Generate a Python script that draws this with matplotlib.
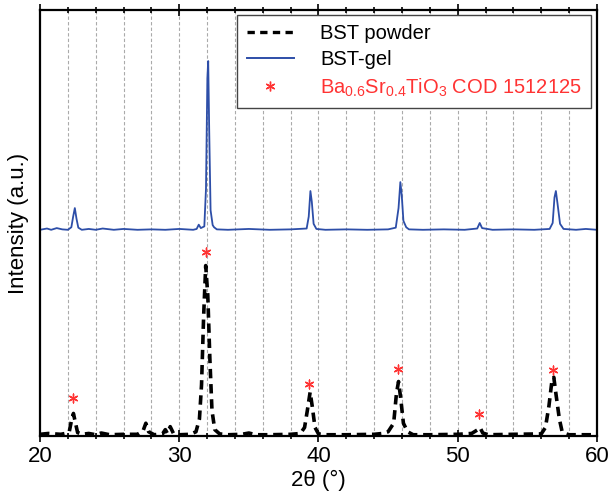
import matplotlib
matplotlib.use("Agg")
import matplotlib.pyplot as plt
from matplotlib.lines import Line2D

plt.rcParams['font.family'] = ['Liberation Sans', 'DejaVu Sans']
plt.rcParams['mathtext.default'] = 'regular'

# BST powder pattern (arbitrary intensity units)
powder_2theta = [20.0, 20.6, 21.0, 21.5, 21.8, 22.1, 22.25, 22.4, 22.55, 22.7, 23.0, 23.5, 24.0, 24.4,
                 25.0, 26.0, 27.0, 27.4, 27.6, 27.8, 28.2, 28.8, 29.0, 29.15, 29.35, 29.6, 30.0,
                 30.8, 31.2, 31.45, 31.6, 31.75, 31.9, 32.05, 32.2, 32.35, 32.55, 32.9, 33.5,
                 34.5, 35.0, 35.5, 36.5, 38.0, 38.7, 39.0, 39.2, 39.4, 39.55, 39.75, 40.0, 40.5,
                 42.0, 44.0, 44.6, 45.0, 45.4, 45.6, 45.75, 45.9, 46.1, 46.4, 46.8, 48.0, 50.0,
                 51.0, 51.4, 51.6, 51.8, 52.2, 54.0, 56.0, 56.3, 56.55, 56.75, 56.9, 57.05, 57.3,
                 57.5, 57.8, 58.0, 60.0]
powder_int = [0.4, 0.6, 0.5, 0.4, 0.6, 1.0, 3.5, 5.3, 3.0, 0.8, 0.4, 0.6, 0.3, 0.7,
              0.3, 0.4, 0.4, 1.2, 3.0, 1.0, 0.3, 0.5, 1.5, 0.6, 2.2, 0.5, 0.3,
              0.4, 1.0, 4.0, 12.0, 28.0, 40.0, 33.0, 18.0, 6.0, 1.5, 0.5, 0.3,
              0.4, 0.7, 0.3, 0.3, 0.4, 0.6, 2.0, 6.0, 10.3, 7.0, 2.0, 0.5, 0.3,
              0.3, 0.4, 0.6, 1.0, 3.0, 10.0, 12.8, 9.0, 3.0, 1.0, 0.3, 0.3, 0.4,
              0.6, 1.4, 2.0, 0.7, 0.3, 0.4, 0.5, 2.0, 7.0, 12.5, 13.8, 10.0, 4.0,
              1.0, 0.5, 0.3, 0.3]

# BST-gel pattern (offset upwards)
gel_2theta = [20.0, 20.5, 20.8, 21.2, 21.6, 22.0, 22.25, 22.38, 22.5, 22.62, 22.75, 23.0, 23.5,
              24.0, 24.5, 25.3, 26.0, 27.0, 28.0, 29.0, 30.0, 31.0, 31.25, 31.4, 31.55, 31.8,
              31.92, 32.02, 32.08, 32.15, 32.25, 32.4, 32.5, 32.7, 33.5, 35.0, 36.5, 38.0,
              39.15, 39.3, 39.42, 39.52, 39.65, 39.85, 40.5, 42.0, 43.5, 45.0, 45.55, 45.75,
              45.88, 45.98, 46.1, 46.3, 46.5, 47.5, 49.0, 50.5, 51.4, 51.58, 51.75, 52.5,
              54.0, 55.5, 56.6, 56.82, 56.95, 57.05, 57.17, 57.35, 57.6, 58.5, 59.2, 60.0]
gel_int = [48.4, 48.7, 48.4, 48.8, 48.5, 48.4, 49.0, 51.5, 53.5, 51.0, 48.9, 48.4, 48.6,
           48.4, 48.7, 48.4, 48.6, 48.4, 48.5, 48.4, 48.6, 48.4, 48.6, 49.6, 48.8, 49.2,
           58.0, 84.0, 88.0, 72.0, 53.0, 49.5, 49.0, 48.5, 48.4, 48.6, 48.4, 48.5,
           48.7, 51.5, 57.5, 55.0, 49.8, 48.6, 48.4, 48.5, 48.4, 48.5, 48.9, 53.5,
           59.6, 56.5, 50.5, 49.0, 48.5, 48.4, 48.5, 48.4, 48.7, 50.0, 48.8, 48.4,
           48.5, 48.4, 48.6, 50.0, 56.0, 57.5, 54.5, 49.8, 48.6, 48.4, 48.6, 48.4]

# reference reflections (Ba0.6Sr0.4TiO3, COD 1512125) marked above powder peaks
ref_2theta = [22.4, 31.9, 39.3, 45.7, 51.5, 56.85]
ref_mark_y = [9.0, 43.3, 12.2, 15.7, 5.2, 15.5]

red = "#ff3333"
blue = "#2d4ea8"

fig = plt.figure(figsize=(6.11, 4.97), dpi=100)
ax = fig.add_axes([0.0655, 0.1227, 0.9115, 0.8573])

for g in range(22, 60, 2):
    ax.axvline(g, color="#aaaaaa", lw=0.8, ls=(0, (3, 2)), zorder=0)

ax.plot(powder_2theta, powder_int, color="black", lw=2.6, ls=(0, (2.6, 1.6)))
ax.plot(gel_2theta, gel_int, color=blue, lw=1.3)
ax.scatter(ref_2theta, ref_mark_y, marker=(6, 2, 0), s=40, color=red, lw=1.0, zorder=5)

ax.set_xlim(20, 60)
ax.set_ylim(0, 100)
ax.set_xticks([20, 30, 40, 50, 60])
ax.set_xticks(range(22, 60, 2), minor=True)
ax.set_yticks([])
ax.tick_params(axis="x", which="both", direction="inout", top=True, labelsize=16, width=1.2)
ax.tick_params(axis="x", which="major", length=8)
ax.tick_params(axis="x", which="minor", length=5)
for s in ax.spines.values():
    s.set_linewidth(1.6)

ax.set_xlabel("2θ (°)", fontsize=16, labelpad=2)
ax.set_ylabel("Intensity (a.u.)", fontsize=16, labelpad=8)

handles = [
    Line2D([], [], color="black", lw=2.4, ls=(0, (2.2, 1.6))),
    Line2D([], [], color=blue, lw=1.4),
    Line2D([], [], color=red, marker=(6, 2, 0), ms=7, mew=1.0, ls="none"),
]
labels = ["BST powder", "BST-gel", r"Ba$_{0.6}$Sr$_{0.4}$TiO$_3$ COD 1512125"]
leg = ax.legend(handles, labels, loc="upper right", fontsize=14.5, fancybox=False,
                framealpha=1, edgecolor="#444444", handlelength=2.35, borderpad=0.45,
                labelspacing=0.35, handletextpad=1.3, borderaxespad=0.0,
                bbox_to_anchor=(0.989, 0.988))
leg.get_frame().set_linewidth(1.0)
leg.get_texts()[2].set_color(red)

fig.savefig("out.png", dpi=100)
